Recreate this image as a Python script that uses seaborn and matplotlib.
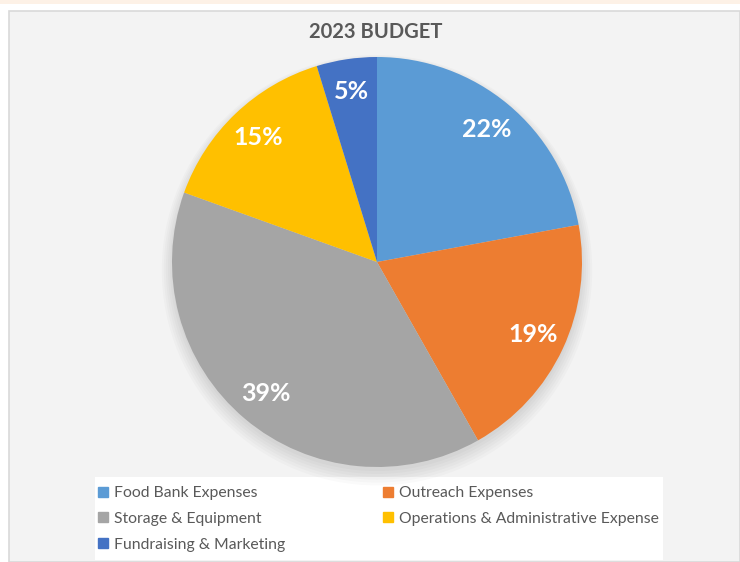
import matplotlib
matplotlib.use('Agg')
import matplotlib.pyplot as plt
import matplotlib.patches as mpatches
import seaborn as sns

categories = ['Food Bank Expenses', 'Outreach Expenses', 'Storage & Equipment',
              'Operations & Administrative Expense', 'Fundraising & Marketing']
shares = [22.1, 19.7, 38.7, 14.75, 4.75]
pct_labels = ['22%', '19%', '39%', '15%', '5%']
colors = ['#5B9BD5', '#ED7D31', '#A5A5A5', '#FFC000', '#4472C4']

sns.set_theme(style='white')
plt.rcParams['font.family'] = ['Lato', 'DejaVu Sans']
TEXT = '#595959'

W, H = 740, 562
fig = plt.figure(figsize=(W / 100, H / 100), dpi=100, facecolor='white')

# page decorations: peach band on top, light grey chart area with border
fig.patches.append(mpatches.Rectangle((0, 1 - 4 / H), 1, 4 / H, transform=fig.transFigure,
                                      facecolor='#FDF1E6', edgecolor='none', zorder=-3))
fig.patches.append(mpatches.Rectangle((9 / W, 0), 1 - 9 / W, 1 - 11 / H, transform=fig.transFigure,
                                      facecolor='#F3F3F3', edgecolor='#D9D9D9', lw=1.2, zorder=-3))
# white legend box
fig.patches.append(mpatches.Rectangle((95 / W, 2 / H), 568 / W, 83 / H, transform=fig.transFigure,
                                      facecolor='white', edgecolor='none', zorder=-2))

fig.text(376 / W, 1 - 32 / H, '2023 BUDGET', ha='center', va='center',
         fontsize=14.5, fontweight='bold', color=TEXT)

cx, cy, r = 377, 262, 205
ax = fig.add_axes([(cx - r) / W, (H - cy - r) / H, 2 * r / W, 2 * r / H])
ax.set_facecolor('none')
ax.set_zorder(1)

# soft shadow under the pie, heavier at the bottom
for k in range(6):
    ax.add_patch(mpatches.Circle((0, -0.02 - 0.004 * k), 1.0 + 0.01 * k, facecolor='#000000',
                                 alpha=0.018, edgecolor='none', zorder=0, clip_on=False))

wedges, texts = ax.pie(shares, colors=colors, labels=pct_labels, startangle=90,
                       counterclock=False, labeldistance=0.84,
                       wedgeprops=dict(edgecolor='none'),
                       textprops=dict(color='white', fontsize=18, fontweight='bold',
                                      ha='center', va='center'))
for w in wedges:
    w.set_zorder(2)
for t in texts:
    t.set_zorder(3)
    t.set_horizontalalignment('center')
ax.set_xlim(-1, 1)
ax.set_ylim(-1, 1)
ax.set_aspect('equal')
ax.axis('off')

# legend: row-major order like the original (matplotlib fills by column)
order = [0, 2, 4, 1, 3]
handles = [mpatches.Patch(color=colors[i], label=categories[i]) for i in order]
leg = fig.legend(handles=handles, ncol=2, loc='upper left',
                 bbox_to_anchor=(95 / W, 1 - 483 / H), frameon=False,
                 fontsize=11.3, labelcolor=TEXT, handlelength=0.6, handleheight=0.6,
                 handletextpad=0.4, columnspacing=6.25, labelspacing=0.75,
                 borderpad=0.2, borderaxespad=0)

fig.savefig('out.png', dpi=100, facecolor=fig.get_facecolor())
